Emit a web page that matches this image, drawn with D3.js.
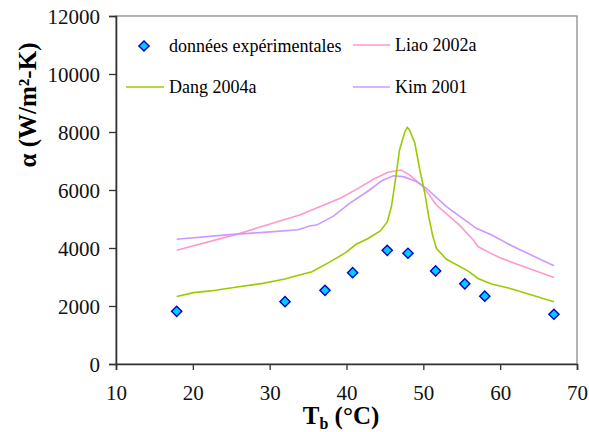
<!DOCTYPE html>
<html>
<head>
<meta charset="utf-8">
<script src="https://cdn.jsdelivr.net/npm/d3@7"></script>
<style>
  body { margin: 0; background: #fff; }
  svg text { font-family: "Liberation Serif", "DejaVu Serif", "Times New Roman", Times, serif; }
</style>
</head>
<body>
<script>
// experimental points
const expT = [17.9, 32.0, 37.2, 40.8, 45.3, 48.0, 51.6, 55.4, 58.0, 67.0];
const expV = [1815, 2150, 2540, 3150, 3920, 3820, 3210, 2765, 2340, 1715];

// Dang 2004a
const dangT = [17.9, 20.1, 22.3, 26.2, 29.1, 32.0, 33.0, 35.5, 37.9, 39.9, 41.2, 42.8, 44.4, 45.3, 45.85, 46.3, 46.9, 47.6, 47.9, 48.2, 48.9, 49.5, 50.2, 50.7, 51.2, 51.7, 53.0, 55.8, 57.1, 58.9, 61.2, 67.0];
const dangV = [2330, 2460, 2520, 2670, 2780, 2930, 3010, 3180, 3530, 3840, 4120, 4330, 4590, 4900, 5430, 6230, 7380, 8010, 8160, 8070, 7610, 6750, 5880, 5080, 4450, 3990, 3610, 3210, 2950, 2760, 2610, 2150];

// Liao 2002a
const liaoT = [17.9, 25.7, 29.2, 33.9, 36.5, 39.1, 41.3, 43.5, 45.4, 47.1, 48.2, 50.0, 51.7, 54.7, 56.5, 57.1, 58.6, 59.9, 62.5, 67.0];
const liaoV = [3920, 4470, 4760, 5140, 5420, 5710, 6020, 6370, 6610, 6690, 6520, 6110, 5480, 4790, 4280, 4050, 3840, 3670, 3410, 2980];

// Kim 2001
const kimT = [17.9, 24.8, 29.2, 33.7, 35.2, 36.1, 38.3, 40.4, 43.0, 44.6, 46.1, 47.4, 49.1, 50.4, 53.0, 56.9, 58.9, 61.7, 67.0];
const kimV = [4300, 4460, 4540, 4630, 4760, 4790, 5100, 5540, 6000, 6320, 6490, 6460, 6290, 6060, 5430, 4680, 4450, 4050, 3390];

const xTicks = [10, 20, 30, 40, 50, 60, 70];
const yTicks = [0, 2000, 4000, 6000, 8000, 10000, 12000];

const W = 589, H = 432;
const pLeft = 116, pRight = 577, pTop = 16, pBottom = 364;
const serif = '"Liberation Serif", "DejaVu Serif", "Times New Roman", serif';

const svg = d3.select("body").append("svg")
  .attr("width", W)
  .attr("height", H)
  .attr("font-family", serif);

const x = d3.scaleLinear().domain([10, 70]).range([pLeft, pRight]);
const y = d3.scaleLinear().domain([0, 12000]).range([pBottom, pTop]);

// plot frame (top / right in grey)
svg.append("rect")
  .attr("x", pLeft).attr("y", pTop)
  .attr("width", pRight - pLeft).attr("height", pBottom - pTop)
  .attr("fill", "none")
  .attr("stroke", "#8c8c8c")
  .attr("stroke-width", 1.3);

// axes
const xAxis = svg.append("g")
  .attr("transform", "translate(0," + pBottom + ")")
  .call(d3.axisBottom(x).tickValues(xTicks).tickSize(6).tickPadding(17).tickFormat(d3.format("d")));
const yAxis = svg.append("g")
  .attr("transform", "translate(" + pLeft + ",0)")
  .call(d3.axisLeft(y).tickValues(yTicks).tickSize(7).tickPadding(9).tickFormat(d3.format("d")));

[xAxis, yAxis].forEach(function (g) {
  g.attr("font-family", serif).attr("font-size", 21);
  g.select(".domain").attr("stroke", "#333").attr("stroke-width", 1.6);
  g.selectAll(".tick line").attr("stroke", "#333").attr("stroke-width", 1.3);
  g.selectAll(".tick text").attr("fill", "#111");
});
xAxis.selectAll(".tick text").attr("dy", "0.62em");
yAxis.selectAll(".tick text").attr("dy", "0.34em");

// model curves
const line = d3.line()
  .x(d => x(d[0]))
  .y(d => y(d[1]));

const series = [
  { name: "Liao 2002a", T: liaoT, V: liaoV, color: "#ff99cc" },
  { name: "Kim 2001", T: kimT, V: kimV, color: "#cc99ff" },
  { name: "Dang 2004a", T: dangT, V: dangV, color: "#99cc00" }
];

series.forEach(function (s) {
  svg.append("path")
    .datum(s.T.map((t, i) => [t, s.V[i]]))
    .attr("fill", "none")
    .attr("stroke", s.color)
    .attr("stroke-width", 1.6)
    .attr("d", line);
});

// experimental diamonds
const diamond = d3.symbol().type(d3.symbolSquare).size(52);
svg.append("g")
  .selectAll("path")
  .data(expT.map((t, i) => [t, expV[i]]))
  .enter()
  .append("path")
    .attr("d", diamond)
    .attr("transform", d => "translate(" + x(d[0]) + "," + y(d[1]) + ") rotate(45)")
    .attr("fill", "#00ccff")
    .attr("stroke", "#0000cc")
    .attr("stroke-width", 1.4);

// legend
const lg = svg.append("g").attr("font-size", 18);
lg.append("path")
  .attr("d", diamond)
  .attr("transform", "translate(144,46) rotate(45)")
  .attr("fill", "#00ccff")
  .attr("stroke", "#0000cc")
  .attr("stroke-width", 1.4);
lg.append("text").attr("x", 169).attr("y", 52).text("données expérimentales");

const legendLines = [
  { x1: 353, x2: 390, yy: 45, tx: 395, label: "Liao 2002a", color: "#ff99cc" },
  { x1: 126, x2: 164, yy: 87, tx: 169, label: "Dang 2004a", color: "#99cc00" },
  { x1: 353, x2: 390, yy: 87, tx: 395, label: "Kim 2001", color: "#cc99ff" }
];
legendLines.forEach(function (l) {
  lg.append("line")
    .attr("x1", l.x1).attr("x2", l.x2)
    .attr("y1", l.yy).attr("y2", l.yy)
    .attr("stroke", l.color)
    .attr("stroke-width", 1.6);
  lg.append("text").attr("x", l.tx).attr("y", l.yy + 6).text(l.label);
});

// axis titles
const xt = svg.append("text")
  .attr("x", 341)
  .attr("y", 424)
  .attr("text-anchor", "middle")
  .attr("font-weight", "bold")
  .attr("font-size", 25);
xt.append("tspan").text("T");
xt.append("tspan").attr("dy", 5).attr("font-size", 16).text("b");
xt.append("tspan").attr("dy", -5).text(" (°C)");

svg.append("text")
  .attr("transform", "translate(36,105) rotate(-90)")
  .attr("text-anchor", "middle")
  .attr("font-weight", "bold")
  .attr("font-size", 25)
  .text("α (W/m²-K)");
</script>
</body>
</html>
